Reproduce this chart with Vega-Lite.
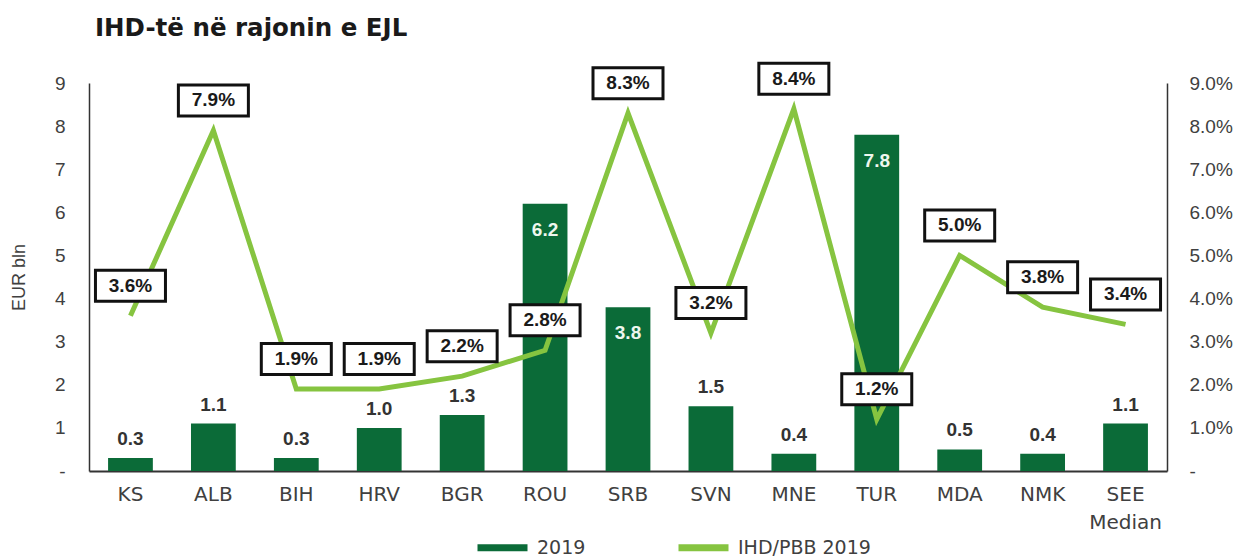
{
  "$schema": "https://vega.github.io/schema/vega-lite/v6.json",
  "width": 1078,
  "height": 388,
  "autosize": {"type": "none"},
  "padding": {"left": 89, "top": 83, "right": 76, "bottom": 88},
  "background": "white",
  "config": {"view": {"stroke": null}},
  "title": {
    "text": "IHD-të në rajonin  e EJL",
    "anchor": "start",
    "frame": "group",
    "font": "DejaVu Sans",
    "fontSize": 24.5,
    "fontWeight": "bold",
    "color": "#1a1a1a",
    "baseline": "alphabetic",
    "offset": -3,
    "dx": 6
  },
  "data": {
    "values": [
      {"country": "KS", "eur": 0.3, "pct": 0.036},
      {"country": "ALB", "eur": 1.1, "pct": 0.079},
      {"country": "BIH", "eur": 0.3, "pct": 0.019},
      {"country": "HRV", "eur": 1.0, "pct": 0.019},
      {"country": "BGR", "eur": 1.3, "pct": 0.022},
      {"country": "ROU", "eur": 6.2, "pct": 0.028},
      {"country": "SRB", "eur": 3.8, "pct": 0.083},
      {"country": "SVN", "eur": 1.5, "pct": 0.032},
      {"country": "MNE", "eur": 0.4, "pct": 0.084},
      {"country": "TUR", "eur": 7.8, "pct": 0.012},
      {"country": "MDA", "eur": 0.5, "pct": 0.050},
      {"country": "NMK", "eur": 0.4, "pct": 0.038},
      {"country": "SEE Median", "eur": 1.1, "pct": 0.034}
    ]
  },
  "encoding": {
    "x": {
      "field": "country",
      "type": "nominal",
      "sort": null,
      "scale": {"paddingInner": 0.46, "paddingOuter": 0.23},
      "axis": {
        "title": null,
        "labelAngle": 0,
        "ticks": false,
        "grid": false,
        "domainColor": "#333333",
        "domainWidth": 2,
        "labelFont": "DejaVu Sans",
        "labelFontSize": 20,
        "labelColor": "#404040",
        "labelPadding": 13,
        "labelLineHeight": 28,
        "labelOverlap": false,
        "labelExpr": "datum.value == 'SEE Median' ? ['SEE', 'Median'] : datum.value"
      }
    }
  },
  "layer": [
    {
      "encoding": {
        "y": {
          "field": "eur",
          "type": "quantitative",
          "scale": {"domain": [0, 9], "nice": false},
          "axis": {
            "orient": "left",
            "values": [0, 1, 2, 3, 4, 5, 6, 7, 8, 9],
            "labelExpr": "datum.value == 0 ? '-' : datum.value",
            "grid": false,
            "ticks": false,
            "domainColor": "#333333",
            "domainWidth": 1.5,
            "labelFont": "Liberation Sans",
            "labelFontSize": 19,
            "labelColor": "#404040",
            "labelPadding": 24,
            "title": "EUR bln",
            "titleFont": "Liberation Sans",
            "titleFontSize": 18,
            "titleFontWeight": "normal",
            "titleColor": "#404040",
            "titlePadding": 26
          }
        }
      },
      "layer": [
        {
          "mark": {"type": "bar"},
          "encoding": {
            "color": {
              "datum": "2019",
              "scale": {"domain": ["2019", "IHD/PBB 2019"], "range": ["#0b6b38", "#86c440"]},
              "legend": {
                "title": null,
                "orient": "none",
                "direction": "horizontal",
                "legendX": 385,
                "legendY": 436,
                "padding": 0,
                "symbolType": "stroke",
                "symbolSize": 2500,
                "symbolStrokeWidth": 7,
                "labelFont": "DejaVu Sans",
                "labelFontSize": 19,
                "labelColor": "#404040",
                "labelOffset": 6,
                "columnPadding": 78,
                "encode": {
                  "symbols": {
                    "update": {
                      "stroke": {"scale": "color", "field": "value"},
                      "fill": {"value": "transparent"},
                      "strokeWidth": {"value": 7}
                    }
                  }
                }
              }
            }
          }
        },
        {
          "transform": [{"filter": "datum.eur <= 3"}],
          "mark": {"type": "text", "baseline": "middle", "dy": -19, "font": "Liberation Sans", "fontSize": 19, "fontWeight": "bold", "color": "#333333"},
          "encoding": {"text": {"field": "eur", "type": "quantitative", "format": ".1f"}}
        },
        {
          "transform": [{"filter": "datum.eur > 3"}],
          "mark": {"type": "text", "baseline": "middle", "dy": 26, "font": "Liberation Sans", "fontSize": 19, "fontWeight": "bold", "color": "#eef7ee"},
          "encoding": {"text": {"field": "eur", "type": "quantitative", "format": ".1f"}}
        }
      ]
    },
    {
      "encoding": {
        "y": {
          "field": "pct",
          "type": "quantitative",
          "scale": {"domain": [0, 0.09], "nice": false},
          "axis": {
            "orient": "right",
            "values": [0, 0.01, 0.02, 0.03, 0.04, 0.05, 0.06, 0.07, 0.08, 0.09],
            "labelExpr": "datum.value == 0 ? '\u00a0\u00a0-' : format(datum.value, '.1%')",
            "grid": false,
            "ticks": false,
            "domainColor": "#333333",
            "domainWidth": 1.5,
            "labelFont": "Liberation Sans",
            "labelFontSize": 19,
            "labelColor": "#404040",
            "labelPadding": 22,
            "title": null
          }
        }
      },
      "layer": [
        {
          "mark": {"type": "line", "strokeWidth": 5},
          "encoding": {"color": {"datum": "IHD/PBB 2019"}}
        },
        {
          "mark": {
            "type": "point",
            "shape": "M-1,-0.443L1,-0.443L1,0.443L-1,0.443Z",
            "size": 4900,
            "filled": true,
            "fill": "white",
            "stroke": "#111111",
            "strokeWidth": 3,
            "opacity": 1,
            "yOffset": -30
          }
        },
        {
          "mark": {"type": "text", "baseline": "middle", "dy": -30, "font": "Liberation Sans", "fontSize": 19, "fontWeight": "bold", "color": "#1a1a1a"},
          "encoding": {"text": {"field": "pct", "type": "quantitative", "format": ".1%"}}
        }
      ]
    }
  ],
  "resolve": {"scale": {"y": "independent"}}
}
